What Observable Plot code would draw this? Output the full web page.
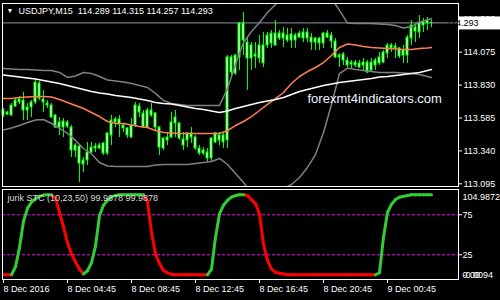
<!DOCTYPE html>
<html><head><meta charset="utf-8">
<script src="https://cdn.jsdelivr.net/npm/d3@7"></script>
<script src="https://cdn.jsdelivr.net/npm/@observablehq/plot@0.6"></script>
<style>
html,body{margin:0;padding:0;background:#000;}
#chart{position:relative;width:500px;height:300px;background:#000;overflow:hidden;}
#chart svg{display:block;position:absolute;left:0;}
#chart svg.mainpane{top:0;z-index:2;overflow:visible;}
#chart svg.subpane{top:187px;z-index:1;}
</style></head><body><div id="chart"></div>
<script>
const symbol = "USDJPY,M15";
const opens = [113.604,113.626,113.604,113.671,113.723,113.715,113.641,113.663,113.701,113.842,
113.723,113.693,113.678,113.604,113.514,113.559,113.522,113.514,113.343,113.373,
113.269,113.269,113.328,113.358,113.358,113.395,113.321,113.455,113.552,113.574,
113.529,113.507,113.440,113.529,113.671,113.619,113.514,113.641,113.619,113.514,
113.358,113.440,113.440,113.544,113.544,113.425,113.418,113.470,113.440,113.358,
113.321,113.328,113.284,113.403,113.455,113.455,113.418,114.036,113.916,114.036,
114.289,114.147,114.028,114.058,114.028,114.125,114.125,114.140,114.214,114.177,
114.214,114.199,114.162,114.199,114.184,114.177,114.222,114.184,114.147,114.177,
114.140,114.214,114.199,114.155,114.036,114.058,114.013,113.983,113.998,113.991,
113.976,113.998,113.939,113.976,113.991,113.998,114.065,114.125,114.103,114.103,
114.050,114.050,114.177,114.259,114.222,114.296,114.289,114.289];
const highs = [113.656,113.634,113.693,113.730,113.745,113.775,113.693,113.715,113.864,113.857,
113.790,113.715,113.693,113.611,113.589,113.581,113.566,113.529,113.395,113.380,
113.291,113.403,113.403,113.395,113.395,113.403,113.477,113.604,113.589,113.604,
113.544,113.514,113.581,113.701,113.693,113.641,113.656,113.693,113.626,113.522,
113.440,113.477,113.626,113.641,113.552,113.477,113.477,113.514,113.455,113.380,
113.365,113.358,113.440,113.477,113.477,113.470,114.050,114.050,114.058,114.296,
114.371,114.177,114.147,114.147,114.199,114.222,114.222,114.237,114.311,114.237,
114.259,114.252,114.252,114.214,114.229,114.252,114.252,114.214,114.184,114.184,
114.222,114.237,114.222,114.177,114.065,114.073,114.036,114.013,114.013,114.013,
114.028,114.013,114.028,114.028,114.073,114.088,114.140,114.140,114.140,114.110,
114.125,114.199,114.311,114.289,114.348,114.326,114.333,114.315];
const lows = [113.589,113.604,113.596,113.663,113.686,113.566,113.566,113.589,113.686,113.715,
113.626,113.656,113.581,113.507,113.455,113.440,113.507,113.291,113.291,113.105,
113.179,113.231,113.321,113.328,113.351,113.306,113.306,113.380,113.514,113.440,
113.477,113.432,113.432,113.514,113.589,113.507,113.507,113.589,113.492,113.306,
113.343,113.380,113.432,113.440,113.418,113.343,113.365,113.395,113.343,113.306,
113.306,113.254,113.254,113.395,113.380,113.358,113.358,113.902,113.902,113.939,
114.050,113.790,113.939,113.954,113.991,113.961,114.103,114.103,114.117,114.162,
114.110,114.147,114.103,114.103,114.177,114.147,114.147,114.088,114.088,114.088,
114.103,114.177,114.103,114.028,113.961,113.976,113.961,113.954,113.961,113.954,
113.939,113.916,113.924,113.939,113.976,113.991,114.028,114.073,114.028,114.028,
113.991,113.991,114.125,114.147,114.177,114.222,114.237,114.257];
const closes = [113.641,113.611,113.678,113.715,113.701,113.641,113.663,113.701,113.849,113.730,
113.701,113.678,113.589,113.514,113.552,113.514,113.552,113.343,113.380,113.246,
113.239,113.328,113.365,113.373,113.380,113.321,113.470,113.566,113.574,113.537,
113.507,113.455,113.529,113.678,113.626,113.514,113.641,113.604,113.514,113.365,
113.432,113.418,113.552,113.589,113.432,113.380,113.470,113.440,113.358,113.321,
113.343,113.284,113.432,113.470,113.418,113.403,114.036,113.924,114.050,114.289,
114.162,114.028,114.125,114.043,114.125,113.991,114.199,114.214,114.125,114.214,
114.177,114.162,114.207,114.162,114.214,114.222,114.177,114.147,114.177,114.140,
114.214,114.184,114.155,114.036,114.050,114.013,113.976,113.998,113.976,113.961,
113.998,113.924,113.998,114.013,114.036,114.073,114.125,114.103,114.117,114.043,
114.088,114.184,114.274,114.229,114.296,114.274,114.311,114.293];

// indicator lines sampled on these bars
const lineBars = [0,2,4,6,8,10,12,14,16,18,20,22,24,26,28,30,32,34,36,38,40,42,44,46,48,50,52,54,56,58,60,62,64,66,68,70,72,74,76,78,80,82,84,86,88,90,92,94,96,98,100,102,104,106,107];
const bbUpper = [113.954,113.950,113.946,113.946,113.943,113.939,113.939,113.924,113.887,113.898,
113.924,113.916,113.894,113.868,113.861,113.853,113.842,113.827,113.812,113.768,
113.715,113.693,113.686,113.678,113.678,113.678,113.678,113.678,113.805,113.983,
114.147,114.229,114.296,114.371,114.430,114.482,114.549,114.594,114.624,114.609,
114.534,114.475,114.386,114.292,114.289,114.289,114.289,114.285,114.281,114.274,
114.255,114.266,114.300,114.315,114.326];
const bbLower = [113.496,113.511,113.529,113.552,113.570,113.574,113.544,113.507,113.470,113.418,
113.358,113.317,113.254,113.228,113.224,113.224,113.224,113.224,113.224,113.235,
113.239,113.239,113.239,113.239,113.246,113.254,113.261,113.284,113.239,113.172,
113.105,113.023,112.978,112.978,113.015,113.060,113.090,113.142,113.217,113.313,
113.477,113.686,113.916,113.957,113.946,113.939,113.931,113.924,113.924,113.924,
113.920,113.916,113.909,113.894,113.887];
const bbMiddle = [113.730,113.730,113.738,113.741,113.745,113.745,113.741,113.723,113.701,113.678,
113.656,113.626,113.596,113.559,113.544,113.544,113.533,113.522,113.514,113.492,
113.477,113.473,113.470,113.470,113.470,113.470,113.470,113.470,113.492,113.529,
113.559,113.596,113.641,113.686,113.730,113.775,113.842,113.894,113.931,113.961,
113.998,114.050,114.110,114.136,114.129,114.117,114.110,114.106,114.103,114.099,
114.095,114.095,114.103,114.106,114.110];
const maSlow = [113.905,113.898,113.890,113.883,113.875,113.864,113.853,113.842,113.827,113.812,
113.797,113.782,113.771,113.764,113.753,113.745,113.738,113.727,113.715,113.701,
113.693,113.689,113.678,113.667,113.656,113.648,113.637,113.626,113.637,113.656,
113.671,113.686,113.701,113.712,113.723,113.738,113.760,113.782,113.797,113.812,
113.827,113.838,113.849,113.857,113.864,113.872,113.879,113.890,113.894,113.902,
113.909,113.916,113.924,113.939,113.946];

const stc = [0,0,0,10,34,67,83,91,95,98,
99.6,100,100,96,78,60,40,26,16,7,
1,5,15,36,74,87,93,97.5,99,100,
100,100,100,100,100,100,92,53,26,14,
5,2.5,0.4,0,0,0,0,0,0,0,
0,0,7,47,76,87,93,97,99,100,
100,99,94,89,76,38,18,7,3,2,
1,0,0,0,0,0,0,0,0,0,
0,0,0,0,0,0,0,0,0,0,
0,0,0,0,2.5,47,78,88,94,97,
98,99,99.9878,99.9878,99.9878,99.9878,99.9878,99.9878];

const priceTicks = [113.095,113.340,113.585,113.830,114.075,114.320];
const stcLevels = [25,75];
const stcMax = 104.9872;
const stcMin = -0.0094;
const timeTickBars = [0,16,32,48,64,80,96];
const timeTickLabels = ["8 Dec 2016","8 Dec 04:45","8 Dec 08:45","8 Dec 12:45","8 Dec 16:45","8 Dec 20:45","9 Dec 00:45"];
const watermark = "forexmt4indicators.com";
const stcTitle = "jurik STC (10,23,50) 99.9878 99.9878";

// ---- build tables
const candles = opens.map((o, i) => ({i, o, h: highs[i], l: lows[i], c: closes[i]}));
const lines = lineBars.map((b, k) => ({b, up: bbUpper[k], lo: bbLower[k], mid: bbMiddle[k], slow: maSlow[k]}));
const last = candles[candles.length - 1];
const title = `${symbol}  ${last.o.toFixed(3)} ${last.h.toFixed(3)} ${last.l.toFixed(3)} ${last.c.toFixed(3)}`;

let dirUp = false;
const segs = [];
for (let i = 1; i < stc.length; i++) {
  if (stc[i] > stc[i-1]) dirUp = true; else if (stc[i] < stc[i-1]) dirUp = false;
  segs.push({a: i - 1, b: i, va: stc[i-1], vb: stc[i], up: dirUp});
}

const W = 500, MR = 42, ML = 2;
const xDomain = [-0.25, 113.75];
const font = "'Liberation Sans', Arial, sans-serif";
const LIME = "#00ff00";

const main = Plot.plot({
  width: W, height: 187,
  marginLeft: ML, marginRight: MR, marginTop: 3, marginBottom: 1,
  x: {domain: xDomain, axis: null},
  y: {domain: [113.075, 114.4376], axis: null},
  className: "mainpane",
  style: {background: "#000", color: "#fff", fontFamily: font, fontSize: "9px", overflow: "visible"},
  marks: [
    Plot.ruleY([last.c], {stroke: "#8a97a6"}),
    Plot.ruleX(candles, {x: "i", y1: "l", y2: "h", stroke: LIME}),
    Plot.rect(candles, {x1: d => d.i - 0.25, x2: d => d.i + 0.25, y1: "o", y2: "c", fill: "#ffffff", stroke: LIME}),
    Plot.line(lines, {x: "b", y: "up", stroke: "#808080", clip: true}),
    Plot.line(lines, {x: "b", y: "lo", stroke: "#808080", clip: true}),
    Plot.line(lines, {x: "b", y: "mid", stroke: "#ff7f50", clip: true}),
    Plot.line(lines, {x: "b", y: "slow", stroke: "#ffffff", strokeWidth: 1.5, clip: true}),
    Plot.text([watermark], {frameAnchor: "top-left", dx: 305, dy: 90, fontSize: 13, fill: "#eef4ff", textAnchor: "start", lineAnchor: "top"}),
    Plot.text(["\u25BC"], {frameAnchor: "top-left", dx: 4, dy: 5, fontSize: 7, fill: "#fff", textAnchor: "start", lineAnchor: "top"}),
    Plot.text([title], {frameAnchor: "top-left", dx: 16, dy: 4.3, fill: "#fff", textAnchor: "start", lineAnchor: "top"}),
    Plot.frame({stroke: "#fff"}),
    Plot.axisY(priceTicks, {anchor: "right", tickSize: 3, tickPadding: 2, tickFormat: d => d.toFixed(3), label: null, color: "#fff"})
  ]
});

// bid price label box on the price axis
{
  const y = main.scale("y").apply(last.c);
  const g = d3.select(main).append("g").attr("transform", "translate(0.5,0.5)");
  g.append("rect").attr("x", W - MR).attr("y", y - 6.5).attr("width", MR).attr("height", 13).attr("fill", "#fff");
  g.append("text").attr("x", W - MR + 4).attr("y", y).attr("dy", "0.32em")
    .attr("fill", "#000").attr("font-family", font).attr("font-size", 9).text(last.c.toFixed(3));
}

const sub = Plot.plot({
  width: W, height: 113,
  marginLeft: ML, marginRight: MR, marginTop: 2, marginBottom: 21,
  x: {domain: xDomain, axis: null},
  y: {domain: [-5.9, 106.6], axis: null},
  className: "subpane",
  style: {background: "#000", color: "#fff", fontFamily: font, fontSize: "9px"},
  marks: [
    Plot.ruleY(stcLevels, {stroke: "#ff00ff", strokeDasharray: "3,2"}),
    Plot.link(segs, {filter: d => !d.up, x1: "a", x2: "b", y1: "va", y2: "vb", stroke: "#ff0000", strokeWidth: 3, strokeLinecap: "round"}),
    Plot.link(segs, {filter: d => d.up, x1: "a", x2: "b", y1: "va", y2: "vb", stroke: "#32cd32", strokeWidth: 3, strokeLinecap: "round"}),
    Plot.text([stcTitle], {frameAnchor: "top-left", dx: 5, dy: 5.5, fill: "#dcdcdc", textAnchor: "start", lineAnchor: "top"}),
    Plot.frame({stroke: "#fff"}),
    Plot.axisY(stcLevels, {anchor: "right", tickSize: 3, tickPadding: 1, tickFormat: d => String(d), label: null, color: "#fff"}),
    Plot.text([stcMax], {y: d => d, text: d => d.toFixed(4), frameAnchor: "right", textAnchor: "start", dx: 4, dy: 6.5, fill: "#fff"}),
    Plot.text([0], {y: d => d, text: () => "0.00", frameAnchor: "right", textAnchor: "start", dx: 4, fill: "#fff"}),
    Plot.text([stcMin], {y: d => d, text: d => d.toFixed(4), frameAnchor: "right", textAnchor: "start", dx: 4, fill: "#fff"}),
    Plot.axisX(timeTickBars, {anchor: "bottom", tickSize: 4, tickPadding: 2, tickFormat: d => timeTickLabels[timeTickBars.indexOf(d)], textAnchor: "start", label: null, color: "#fff"})
  ]
});

const chart = document.getElementById("chart");
chart.appendChild(sub);
chart.appendChild(main);
</script>
</body></html>
